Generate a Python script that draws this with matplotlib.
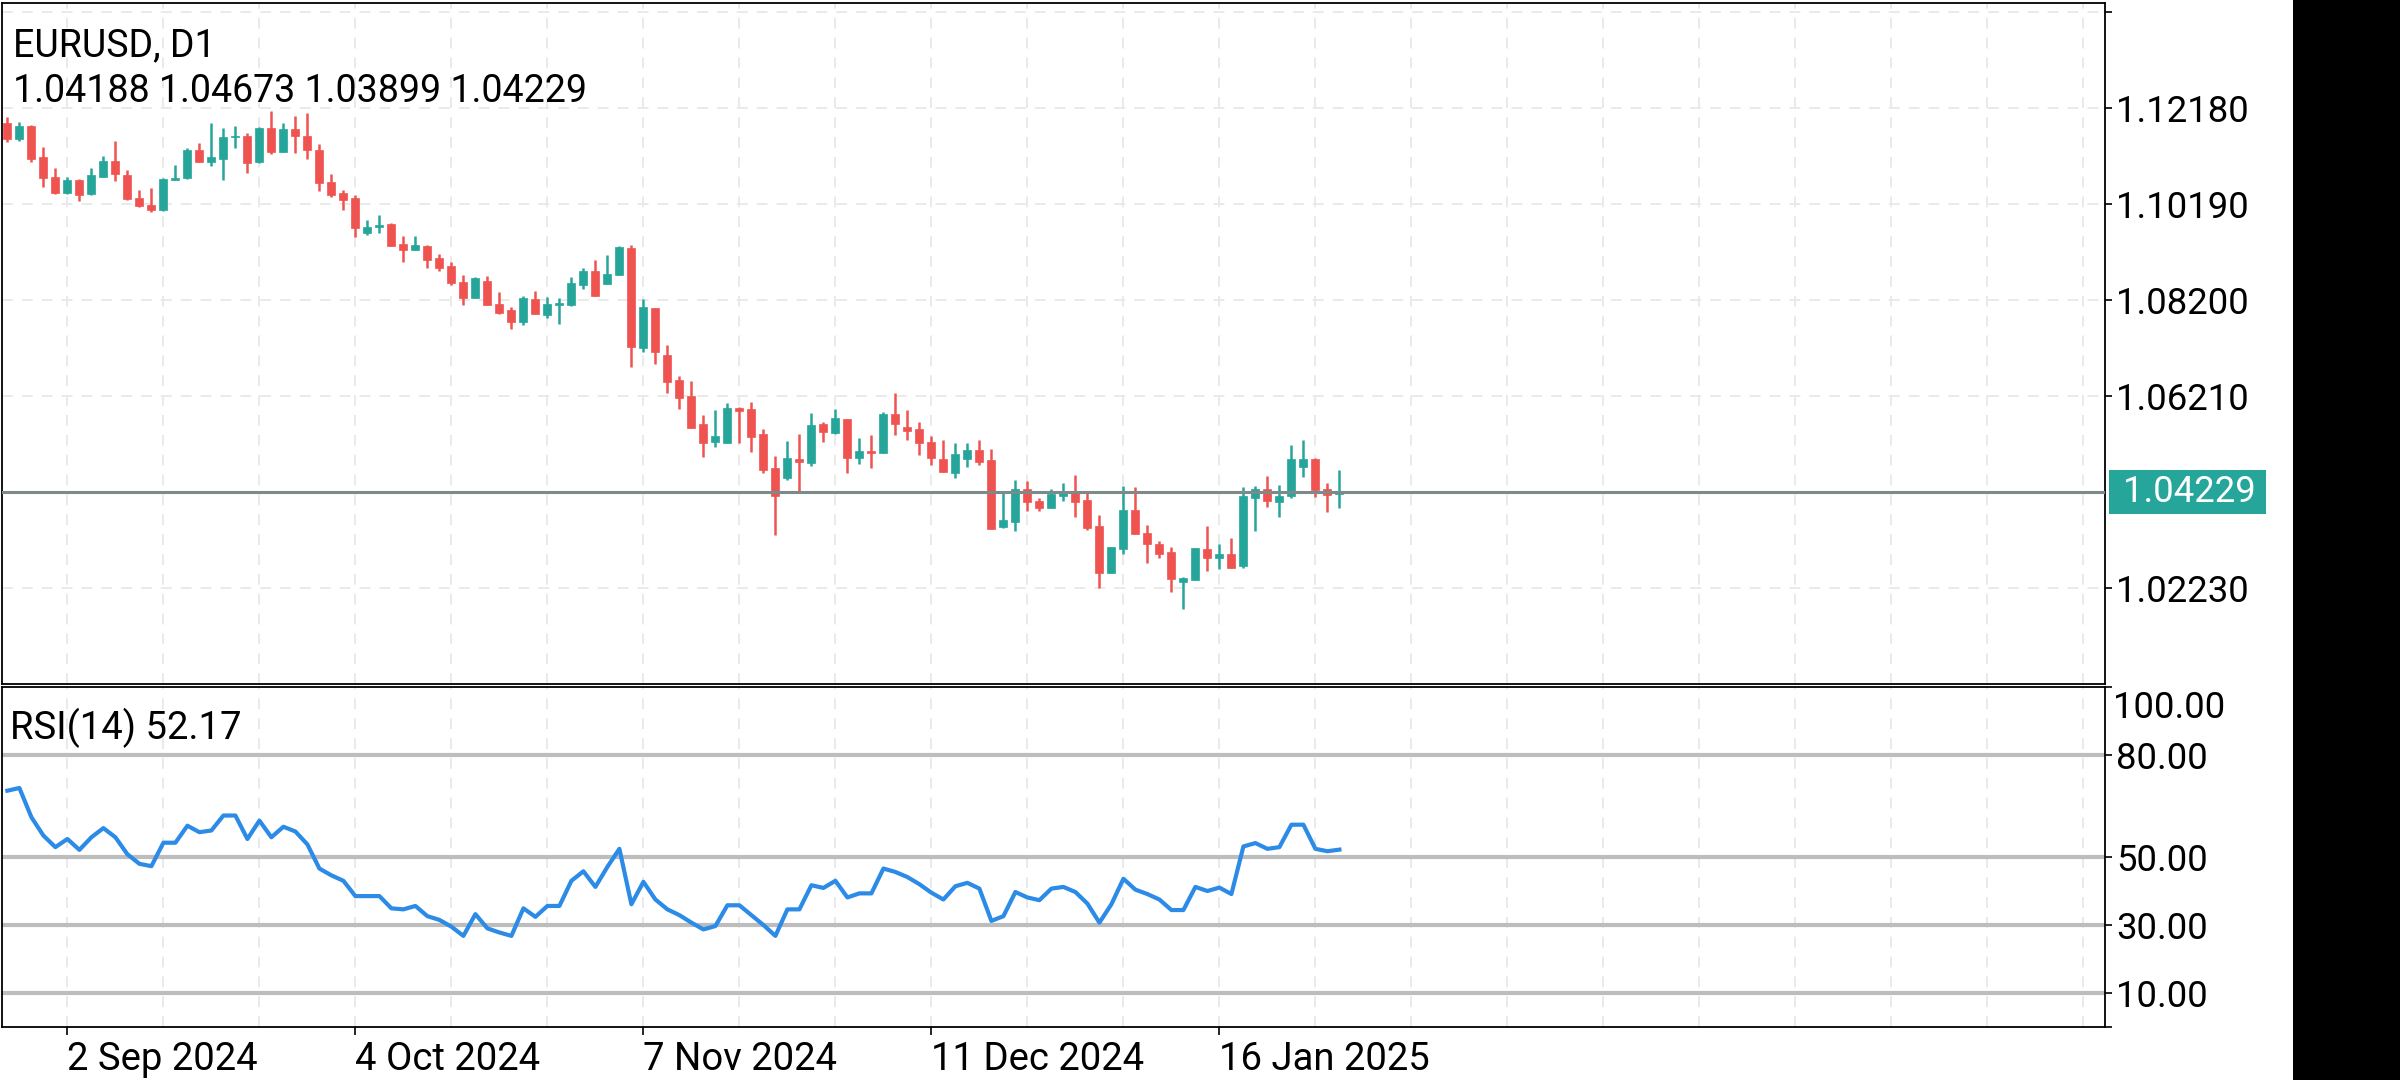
import matplotlib
matplotlib.use('Agg')
import matplotlib.pyplot as plt
import matplotlib.transforms as mtransforms
from matplotlib.patches import Rectangle
import pandas as pd

plt.rcParams['font.family'] = ['Roboto', 'DejaVu Sans']

# daily bars (26 Aug 2024 .. 30 Jan 2025, no bars on 25 Dec / 1 Jan)
dates = pd.bdate_range('2024-08-26', '2025-01-30', freq='C',
                       holidays=['2024-12-25', '2025-01-01'])

opens = [1.1186, 1.1154, 1.1181, 1.1116, 1.1075, 1.1042, 1.1069, 1.1039, 1.1075, 1.1108,
         1.1080, 1.1032, 1.1017, 1.1006, 1.1068, 1.1072, 1.1131, 1.1107, 1.1113, 1.1157,
         1.1161, 1.1106, 1.1177, 1.1127, 1.1174, 1.1160, 1.1132, 1.1065, 1.1042, 1.1032,
         1.0958, 1.0971, 1.0977, 1.0936, 1.0924, 1.0932, 1.0908, 1.0891, 1.0858, 1.0825,
         1.0859, 1.0812, 1.0799, 1.0775, 1.0823, 1.0789, 1.0810, 1.0809, 1.0852, 1.0881,
         1.0854, 1.0873, 1.0928, 1.0721, 1.0803, 1.0706, 1.0654, 1.0621, 1.0563, 1.0526,
         1.0524, 1.0597, 1.0594, 1.0542, 1.0472, 1.0452, 1.0490, 1.0483, 1.0563, 1.0545,
         1.0573, 1.0492, 1.0508, 1.0503, 1.0584, 1.0557, 1.0553, 1.0526, 1.0490, 1.0462,
         1.0490, 1.0509, 1.0488, 1.0349, 1.0361, 1.0428, 1.0404, 1.0389, 1.0415, 1.0424,
         1.0406, 1.0352, 1.0255, 1.0304, 1.0386, 1.0337, 1.0314, 1.0298, 1.0235, 1.0240,
         1.0304, 1.0285, 1.0295, 1.0270, 1.0411, 1.0428, 1.0402, 1.0414, 1.0475, 1.0491,
         1.0428, 1.04188]
highs = [1.1199, 1.1188, 1.1183, 1.1137, 1.1093, 1.1075, 1.1071, 1.1093, 1.1119, 1.1150,
         1.1089, 1.1049, 1.1053, 1.1073, 1.1100, 1.1135, 1.1146, 1.1186, 1.1176, 1.1181,
         1.1166, 1.1178, 1.1212, 1.1186, 1.1201, 1.1207, 1.1143, 1.1081, 1.1048, 1.1038,
         1.0986, 1.0996, 1.0980, 1.0953, 1.0953, 1.0934, 1.0915, 1.0899, 1.0872, 1.0867,
         1.0870, 1.0837, 1.0805, 1.0828, 1.0839, 1.0826, 1.0824, 1.0868, 1.0886, 1.0904,
         1.0913, 1.0933, 1.0935, 1.0822, 1.0803, 1.0727, 1.0662, 1.0652, 1.0582, 1.0592,
         1.0607, 1.0599, 1.0609, 1.0552, 1.0497, 1.0528, 1.0542, 1.0586, 1.0568, 1.0595,
         1.0573, 1.0535, 1.0541, 1.0588, 1.0628, 1.0592, 1.0567, 1.0538, 1.0530, 1.0523,
         1.0523, 1.0531, 1.0511, 1.0423, 1.0447, 1.0445, 1.0409, 1.0428, 1.0442, 1.0458,
         1.0421, 1.0375, 1.0308, 1.0435, 1.0432, 1.0355, 1.0321, 1.0309, 1.0247, 1.0306,
         1.0353, 1.0314, 1.0328, 1.0432, 1.0435, 1.0455, 1.0436, 1.0520, 1.0531, 1.0492,
         1.0442, 1.04673]
lows = [1.1148, 1.1150, 1.1106, 1.1055, 1.1040, 1.1040, 1.1026, 1.1038, 1.1074, 1.1066,
        1.1028, 1.1013, 1.1002, 1.1005, 1.1068, 1.1071, 1.1106, 1.1097, 1.1068, 1.1136,
        1.1083, 1.1104, 1.1122, 1.1126, 1.1124, 1.1113, 1.1046, 1.1033, 1.1007, 1.0951,
        1.0954, 1.0960, 1.0933, 1.0899, 1.0924, 1.0886, 1.0881, 1.0852, 1.0810, 1.0825,
        1.0810, 1.0792, 1.0761, 1.0769, 1.0792, 1.0782, 1.0770, 1.0808, 1.0844, 1.0829,
        1.0854, 1.0873, 1.0682, 1.0713, 1.0687, 1.0628, 1.0594, 1.0556, 1.0495, 1.0516,
        1.0524, 1.0523, 1.0506, 1.0462, 1.0333, 1.0448, 1.0424, 1.0476, 1.0526, 1.0542,
        1.0461, 1.0481, 1.0473, 1.0503, 1.0540, 1.0531, 1.0499, 1.0478, 1.0463, 1.0452,
        1.0474, 1.0479, 1.0345, 1.0347, 1.0342, 1.0384, 1.0384, 1.0389, 1.0404, 1.0371,
        1.0344, 1.0224, 1.0255, 1.0295, 1.0335, 1.0275, 1.0285, 1.0215, 1.0180, 1.0240,
        1.0259, 1.0262, 1.0266, 1.0266, 1.0342, 1.0392, 1.0371, 1.0411, 1.0454, 1.0413,
        1.0382, 1.03899]
closes = [1.1154, 1.1181, 1.1113, 1.1072, 1.1042, 1.1069, 1.1037, 1.1079, 1.1108, 1.1081,
          1.1029, 1.1014, 1.1006, 1.1071, 1.1073, 1.1131, 1.1107, 1.1116, 1.1157, 1.1160,
          1.1105, 1.1177, 1.1126, 1.1174, 1.1159, 1.1130, 1.1062, 1.1038, 1.1027, 1.0970,
          1.0972, 1.0976, 1.0933, 1.0924, 1.0934, 1.0903, 1.0886, 1.0855, 1.0825, 1.0866,
          1.0810, 1.0794, 1.0775, 1.0825, 1.0792, 1.0812, 1.0813, 1.0855, 1.0881, 1.0829,
          1.0875, 1.0931, 1.0723, 1.0805, 1.0713, 1.0651, 1.0617, 1.0556, 1.0524, 1.0538,
          1.0596, 1.0591, 1.0537, 1.0468, 1.0414, 1.0493, 1.0484, 1.0562, 1.0547, 1.0575,
          1.0492, 1.0507, 1.0503, 1.0585, 1.0564, 1.0548, 1.0523, 1.0492, 1.0463, 1.0501,
          1.0509, 1.0485, 1.0345, 1.0364, 1.0428, 1.0401, 1.0389, 1.0418, 1.0425, 1.0401,
          1.0348, 1.0255, 1.0308, 1.0386, 1.0335, 1.0314, 1.0295, 1.0242, 1.0244, 1.0306,
          1.0285, 1.0295, 1.0266, 1.0414, 1.0428, 1.0404, 1.0414, 1.0491, 1.0490, 1.0426,
          1.0416, 1.04229]

rsi = [69.5, 70.3, 61.7, 56.3, 52.9, 55.3, 52.1, 55.8, 58.5, 55.8,
       50.8, 48.0, 47.3, 54.2, 54.2, 59.2, 57.3, 57.8, 62.2, 62.2,
       55.3, 60.7, 55.8, 58.9, 57.5, 53.7, 46.6, 44.6, 43.0, 38.5,
       38.5, 38.5, 34.9, 34.6, 35.6, 32.6, 31.5, 29.5, 26.8, 33.2,
       29.0, 27.8, 26.8, 34.9, 32.4, 35.6, 35.6, 43.0, 45.8, 41.2,
       47.1, 52.4, 36.1, 42.7, 37.5, 34.6, 32.9, 30.7, 28.7, 29.7,
       35.8, 35.8, 32.9, 30.0, 26.8, 34.6, 34.6, 41.7, 40.9, 43.0,
       38.1, 39.3, 39.3, 46.6, 45.6, 44.1, 42.0, 39.5, 37.5, 41.4,
       42.4, 40.7, 31.2, 32.6, 39.7, 38.1, 37.3, 40.7, 41.2, 39.7,
       36.3, 30.7, 36.1, 43.6, 40.4, 39.1, 37.5, 34.4, 34.4, 41.2,
       40.0, 41.0, 39.1, 53.1, 54.1, 52.4, 52.9, 59.5, 59.5, 52.4,
       51.7, 52.17]

price_levels = [1.02230, 1.06210, 1.08200, 1.10190, 1.12180, 1.14170]
price_labels = ['1.02230', '1.06210', '1.08200', '1.10190', '1.12180', '']
rsi_levels = [10, 30, 50, 80]
date_labels = ['2 Sep 2024', '4 Oct 2024', '7 Nov 2024', '11 Dec 2024', '16 Jan 2025']
last_price = closes[-1]

UP = '#26a69a'
DOWN = '#ef5350'
GRID = '#e8e8e8'
FS = 27.5     # dates / RSI header
FS_HEAD = 27  # symbol header
FS_AX = 26.3  # right axis labels

fig = plt.figure(figsize=(24, 10.8), dpi=100)
ax = fig.add_axes([2 / 2400, 1 - 684 / 1080, 2103 / 2400, 681 / 1080])
ax2 = fig.add_axes([2 / 2400, 1 - 1027 / 1080, 2103 / 2400, 340 / 1080], sharex=ax)

x = list(range(len(dates)))
# candles
for i in x:
    o, h, l, c = opens[i], highs[i], lows[i], closes[i]
    col = UP if c >= o else DOWN
    ax.vlines(i, l, h, color=col, lw=1.8, zorder=2)
    ax.bar(i, max(abs(c - o), 0.0003), bottom=min(o, c), width=0.66,
           color=col, edgecolor=col, lw=0.5, zorder=2)

ax.axhline(last_price, color='#7c8b89', lw=2.2, zorder=3)

ax.set_xlim(-0.45, 174.8)
ax.set_ylim(1.00247, 1.14355)

label_pos = [dates.get_loc(pd.Timestamp(d)) for d in
             ['2024-09-02', '2024-10-04', '2024-11-07', '2024-12-11', '2025-01-16']]
grid_pos = list(range(label_pos[0] % 8, 175, 8))

for a in (ax, ax2):
    a.set_xticks(label_pos)
    a.set_xticks(grid_pos, minor=True)
    a.grid(True, which='both', axis='x', color=GRID, lw=1.3, ls=(0, (6, 5)))
    a.set_axisbelow(True)
    for s in a.spines.values():
        s.set_linewidth(1.3)
        s.set_color('black')
    a.tick_params(which='minor', length=0)

ax.tick_params(axis='x', which='both', length=0, labelbottom=False)
ax.yaxis.tick_right()
ax.set_yticks(price_levels)
ax.set_yticklabels(price_labels)
ax.grid(True, axis='y', color=GRID, lw=1.3, ls=(0, (6, 5)))
ax.tick_params(axis='y', length=5, width=1.2, pad=3, labelsize=FS_AX)

# current price tag
tr = mtransforms.blended_transform_factory(ax.transAxes, ax.transData)
ax.add_patch(Rectangle((1.002, last_price - 0.00455), 0.0745, 0.0091, transform=tr,
                       facecolor=UP, edgecolor='none', clip_on=False, zorder=5))
ax.text(1.0085, last_price, f'{last_price:.5f}', transform=tr, color='white',
        fontsize=FS_AX, va='center', ha='left', zorder=6, clip_on=False)

# header lines (positions in figure pixels from the top)
trh = mtransforms.blended_transform_factory(ax.transAxes, fig.dpi_scale_trans)
ax.text(0.005, (1080 - 46) / 100, 'EURUSD, D1', transform=trh, fontsize=FS_HEAD, va='center')
ax.text(0.005, (1080 - 91) / 100,
        f'{opens[-1]:.5f} {highs[-1]:.5f} {lows[-1]:.5f} {closes[-1]:.5f}',
        transform=trh, fontsize=FS_HEAD, va='center')

# RSI panel
for lv in rsi_levels:
    ax2.axhline(lv, color='#bdbdbd', lw=3, zorder=1)
ax2.plot(x, rsi, color='#2b8be6', lw=3, zorder=3)
ax2.set_ylim(0, 100)
ax2.yaxis.tick_right()
ax2.set_yticks([0] + rsi_levels + [100])
ax2.set_yticklabels([''] + [f'{v:.2f}' for v in rsi_levels] + [''])
ax2.tick_params(axis='y', length=5, width=1.2, pad=3, labelsize=FS_AX)
tr2 = mtransforms.blended_transform_factory(ax2.transAxes, ax2.transData)
ax2.text(1.0038, 93.8, '100.00', transform=tr2, fontsize=FS_AX, va='center', ha='left')
ax2.text(0.004, 88.0, f'RSI(14) {rsi[-1]:.2f}', transform=tr2, fontsize=FS, va='center')

ax2.set_xticklabels(date_labels, ha='left')
ax2.tick_params(axis='x', which='major', length=6, width=1.2, pad=4, labelsize=FS)

# dark strip on the right edge
fig.patches.append(Rectangle((2293 / 2400, 0), 1 - 2293 / 2400, 1, transform=fig.transFigure,
                             facecolor='black', edgecolor='none', zorder=0))

fig.savefig('out.png', dpi=100, facecolor='white')
